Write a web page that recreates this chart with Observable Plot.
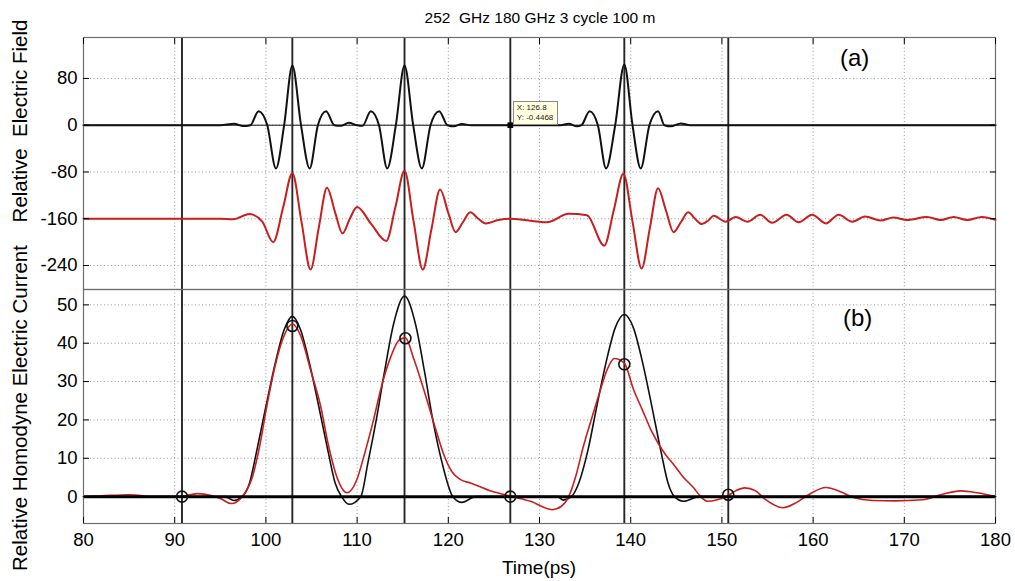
<!DOCTYPE html>
<html><head><meta charset="utf-8">
<script src="https://cdn.jsdelivr.net/npm/d3@7"></script>
<script src="https://cdn.jsdelivr.net/npm/@observablehq/plot@0.6"></script>
<style>
body{margin:0;background:#fff;font-family:Arial,"Liberation Sans",sans-serif;}
#wrap{position:relative;width:1015px;height:581px;overflow:hidden;background:#fff;}
#wrap svg{position:absolute;left:0;}
.lbl{position:absolute;white-space:pre;color:#000;line-height:1;}
.rot{transform-origin:center center;transform:translate(-50%,-50%) rotate(-90deg);}
</style></head><body><div id="wrap"></div>
<script>
// ---------- data ----------
const titleText = "252  GHz 180 GHz 3 cycle 100 m";
const xLabel = "Time(ps)";
const yLabelA = "Relative  Electric Field";
const yLabelB = "Relative Homodyne Electric Current";
const xTicks = [80, 90, 100, 110, 120, 130, 140, 150, 160, 170, 180];
const yTicksA = [-240, -160, -80, 0, 80];
const yTicksB = [0, 10, 20, 30, 40, 50];
const cursorTimes = [90.8, 102.9, 115.2, 126.8, 139.3, 150.7];

// (a) black: electric field
const fieldTime = [80, 95, 96.5, 97.5, 98.3, 99.2, 100.15, 101.1, 102.0, 102.9, 103.85, 104.8, 105.7, 106.6, 107.5, 108.2, 109.1, 110.0, 110.6, 111.5, 112.4, 113.3, 114.25, 115.2, 116.15, 117.1, 118.05, 119.0, 119.9, 120.6, 121.5, 122.5, 132.3, 133.2, 134.1, 134.6, 135.5, 136.4, 137.3, 138.3, 139.3, 140.2, 141.1, 142.05, 143.0, 143.7, 144.4, 145.5, 146.5, 180];
const fieldValue = [0, 0, 2.5, -1.5, 0, 24, 0, -74, 0, 102, 0, -74, 0, 24, 0, -1, 4, 0, -1, 24, 0, -74, 0, 102, 0, -74, 0, 24, 0, -2, 2, 0, 0, 2.5, -2, 0, 24, 0, -74, 0, 104, 0, -74, 0, 24, 0, -2, 3, 0, 0];

// (a) red: current (shown with -160 offset)
const currentTime = [80, 95, 96.4, 98.2, 99.6, 100.8, 101.9, 102.9, 103.9, 104.9, 105.8, 106.7, 107.6, 108.4, 109.2, 110.0, 111.5, 113.2, 114.2, 115.2, 116.2, 117.2, 118.15, 119.1, 120.0, 120.8, 121.6, 122.4, 123.3, 124.1, 125.5, 126.8, 130.8, 133.2, 135.2, 137.1, 138.15, 139.2, 140.2, 141.2, 142.1, 143.0, 143.85, 144.7, 145.5, 146.3, 147.05, 147.8, 148.5, 149.1, 150.4, 151.5, 152.8, 154.2, 155.5, 157.1, 158.4, 159.9, 161.4, 162.8, 164.3, 165.7, 167.4, 168.8, 170.3, 172.5, 174.0, 175.4, 176.9, 178.5, 180];
const currentValue = [-160, -160, -161, -152, -165, -200, -140, -82, -165, -247, -175, -107, -150, -185, -160, -140, -168, -198, -140, -78, -165, -247, -178, -110, -150, -183, -166, -149, -160, -168, -162, -160, -166, -151.5, -154, -206, -145, -83, -165, -245, -176, -108, -145, -183, -166, -149, -160, -169, -163, -155, -165, -157, -165, -153, -167, -153, -166, -153, -168, -153, -165, -156, -163, -158, -162, -157, -162, -157, -162, -157, -162];

// (b) black: calculated homodyne current
const modelTime = [80, 95.5, 96.5, 97.4, 98.2, 99, 100, 101, 102, 102.9, 103.8, 104.8, 105.8, 106.8, 107.6, 108.3, 109.1, 110.4, 111.2, 112.1, 113, 114, 115.2, 116.4, 117.4, 118.3, 119.3, 120.5, 121.5, 123, 132, 132.6, 133.5, 134.3, 135.3, 136.3, 137.3, 138.3, 139.3, 140.3, 141.3, 142.3, 143.3, 144.1, 144.8, 145.8, 147.5, 180];
const modelValue = [0, 0, -1, 0, 3.5, 12, 23.5, 34.5, 43.5, 47, 43.5, 34.5, 23.5, 12, 3.5, 0, -2, 0, 9, 20, 32.5, 45, 52.3, 45, 32.5, 20, 9, 0, -1.5, 0, 0, -0.9, 0, 3.5, 12, 23.75, 35, 44, 47.5, 44, 35, 23.75, 12, 3.5, 0, -1.2, 0, 0];

// (b) red: measured homodyne current
const measTime = [80, 82, 85, 88, 90.5, 92.5, 94, 95, 96.2, 97.4, 98.5, 99.3, 100.1, 101, 102, 102.9, 103.8, 104.9, 106, 106.8, 107.8, 108.9, 109.9, 110.8, 111.8, 112.7, 113.7, 114.6, 115.3, 116.2, 117.3, 118.5, 119.5, 120.4, 121.3, 122.5, 123.5, 124.5, 125.4, 127, 129, 131.4, 132.4, 133.2, 134, 134.8, 135.8, 136.7, 137.4, 138.2, 139.3, 140.3, 141.3, 142.3, 143.8, 144.7, 145.8, 146.9, 147.5, 148.4, 149.5, 150.5, 151.5, 152.5, 153.7, 154.8, 156.7, 158.2, 159.5, 161.4, 163, 164.5, 166.5, 169, 172, 174, 176.2, 178, 180];
const measValue = [0, 0.2, 0.5, 0, 0, 0.8, 0.3, -0.5, -1.8, 0, 5, 13, 23.6, 34, 42, 45, 42, 33, 23.6, 14, 5, 1, 4, 11, 20, 29, 36.5, 40.8, 41.4, 36, 28, 18.5, 11, 6.5, 4.5, 3.5, 2.6, 1.6, 1, 0, -1.2, -3.4, -2.5, 0, 5.5, 13, 21, 28, 33, 36, 34.8, 28, 22.5, 17, 11, 8.4, 5, 2.3, 0.5, -1.2, -0.8, 0, 1.5, 2.3, 1.5, -0.8, -2.9, -1.5, 0.5, 2.4, 1.3, -0.3, -1, -1.1, -0.8, 0.5, 1.5, 1, 0];

// (b) circle markers
const markerTime = [90.8, 102.9, 115.3, 126.8, 139.3, 150.7];
const markerValue = [0, 44.5, 41.3, 0, 34.5, 0.5];

// data tip in (a)
const tipTime = 126.8;
const tipValue = -0.4468;

// ---------- build ----------
const toRows = (xs, ys) => xs.map((x, i) => ({x, y: ys[i]}));
const field = toRows(fieldTime, fieldValue);
const current = toRows(currentTime, currentValue);
const model = toRows(modelTime, modelValue);
const meas = toRows(measTime, measValue);
const markers = toRows(markerTime, markerValue);

const FONT = "Arial, 'Liberation Sans', sans-serif";
const RED = "#c81e1e";
const TICKFS = 18.5;
const gridStyle = {stroke: "#9a9a9a", strokeOpacity: 1, strokeDasharray: "1,2.5", strokeWidth: 1};

const wrap = document.getElementById("wrap");

const plotA = Plot.plot({
  width: 1015, height: 289,
  marginLeft: 83, marginRight: 20, marginTop: 37, marginBottom: 0,
  style: {fontFamily: FONT, fontSize: TICKFS + "px", background: "transparent", overflow: "visible"},
  x: {domain: [80, 180]},
  y: {domain: [-281, 150]},
  marks: [
    Plot.gridX(xTicks, gridStyle),
    Plot.gridY(yTicksA, gridStyle),
    Plot.ruleY([0], {stroke: "#111", strokeWidth: 1}),
    Plot.ruleX(cursorTimes, {stroke: "#262626", strokeWidth: 1.9}),
    Plot.line(current, {x: "x", y: "y", curve: "monotone-x", stroke: RED, strokeWidth: 2}),
    Plot.line(field, {x: "x", y: "y", curve: "monotone-x", stroke: "#111", strokeWidth: 2}),
    Plot.dot([{x: tipTime, y: 0}], {x: "x", y: "y", symbol: "square", r: 3.2, fill: "#000"}),
    Plot.frame({stroke: "#6d6d6d", strokeWidth: 1.2}),
    Plot.axisY({ticks: yTicksA, tickSize: -6, tickPadding: 12, label: null, fontSize: TICKFS, tickFormat: d => String(d)}),
    Plot.axisY({ticks: yTicksA, anchor: "right", tickSize: -6, label: null, tickFormat: () => ""}),
    Plot.axisX({ticks: xTicks, anchor: "top", tickSize: -6, label: null, tickFormat: () => ""})
  ]
});
plotA.style.top = "0px";
wrap.appendChild(plotA);

const plotB = Plot.plot({
  width: 1015, height: 292,
  marginLeft: 83, marginRight: 20, marginTop: 0, marginBottom: 58,
  style: {fontFamily: FONT, fontSize: TICKFS + "px", background: "transparent", overflow: "visible"},
  x: {domain: [80, 180]},
  y: {domain: [-7, 54]},
  marks: [
    Plot.gridX(xTicks, gridStyle),
    Plot.gridY(yTicksB, gridStyle),
    Plot.ruleX(cursorTimes, {stroke: "#262626", strokeWidth: 1.9}),
    Plot.line(model, {x: "x", y: "y", curve: "monotone-x", stroke: "#111", strokeWidth: 1.6}),
    Plot.line(meas, {x: "x", y: "y", curve: "monotone-x", stroke: RED, strokeWidth: 1.6}),
    Plot.ruleY([0], {stroke: "#000", strokeWidth: 3}),
    Plot.dot(markers, {x: "x", y: "y", r: 5.5, stroke: "#111", strokeWidth: 1.6, fill: "none"}),
    Plot.frame({stroke: "#6d6d6d", strokeWidth: 1.2}),
    Plot.axisY({ticks: yTicksB, tickSize: -6, tickPadding: 12, label: null, fontSize: TICKFS}),
    Plot.axisY({ticks: yTicksB, anchor: "right", tickSize: -6, label: null, tickFormat: () => ""}),
    Plot.axisX({ticks: xTicks, tickSize: -6, tickPadding: 15, label: null, fontSize: TICKFS})
  ]
});
plotB.style.top = "289px";
wrap.appendChild(plotB);

function addLabel(text, css, cls) {
  const d = document.createElement("div");
  d.className = "lbl" + (cls ? " " + cls : "");
  d.textContent = text;
  Object.assign(d.style, css);
  wrap.appendChild(d);
  return d;
}
addLabel(titleText, {left: "540px", top: "10px", fontSize: "15.5px", transform: "translateX(-50%)"});
addLabel(xLabel, {left: "539px", top: "558px", fontSize: "19px", transform: "translateX(-50%)"});
addLabel(yLabelA, {left: "20px", top: "121px", fontSize: "20.5px"}, "rot");
addLabel(yLabelB, {left: "20px", top: "408px", fontSize: "20.5px"}, "rot");
addLabel("(a)", {left: "840px", top: "46px", fontSize: "24px"});
addLabel("(b)", {left: "843px", top: "306px", fontSize: "24px"});

// data tip box anchored to the data point via the plot's scales
const sx = plotA.scale("x"), sy = plotA.scale("y");
const px = sx.apply(tipTime), py = sy.apply(0);
const tip = document.createElement("div");
tip.className = "lbl";
tip.textContent = "X: " + tipTime + "\nY: " + tipValue;
Object.assign(tip.style, {left: (px + 3) + "px", top: (py - 24) + "px", fontSize: "8px", lineHeight: "10px",
  background: "#ffffe0", border: "1px solid #8a8a8a", padding: "1px 4px 1px 3px", color: "#222"});
wrap.appendChild(tip);
</script></body></html>
